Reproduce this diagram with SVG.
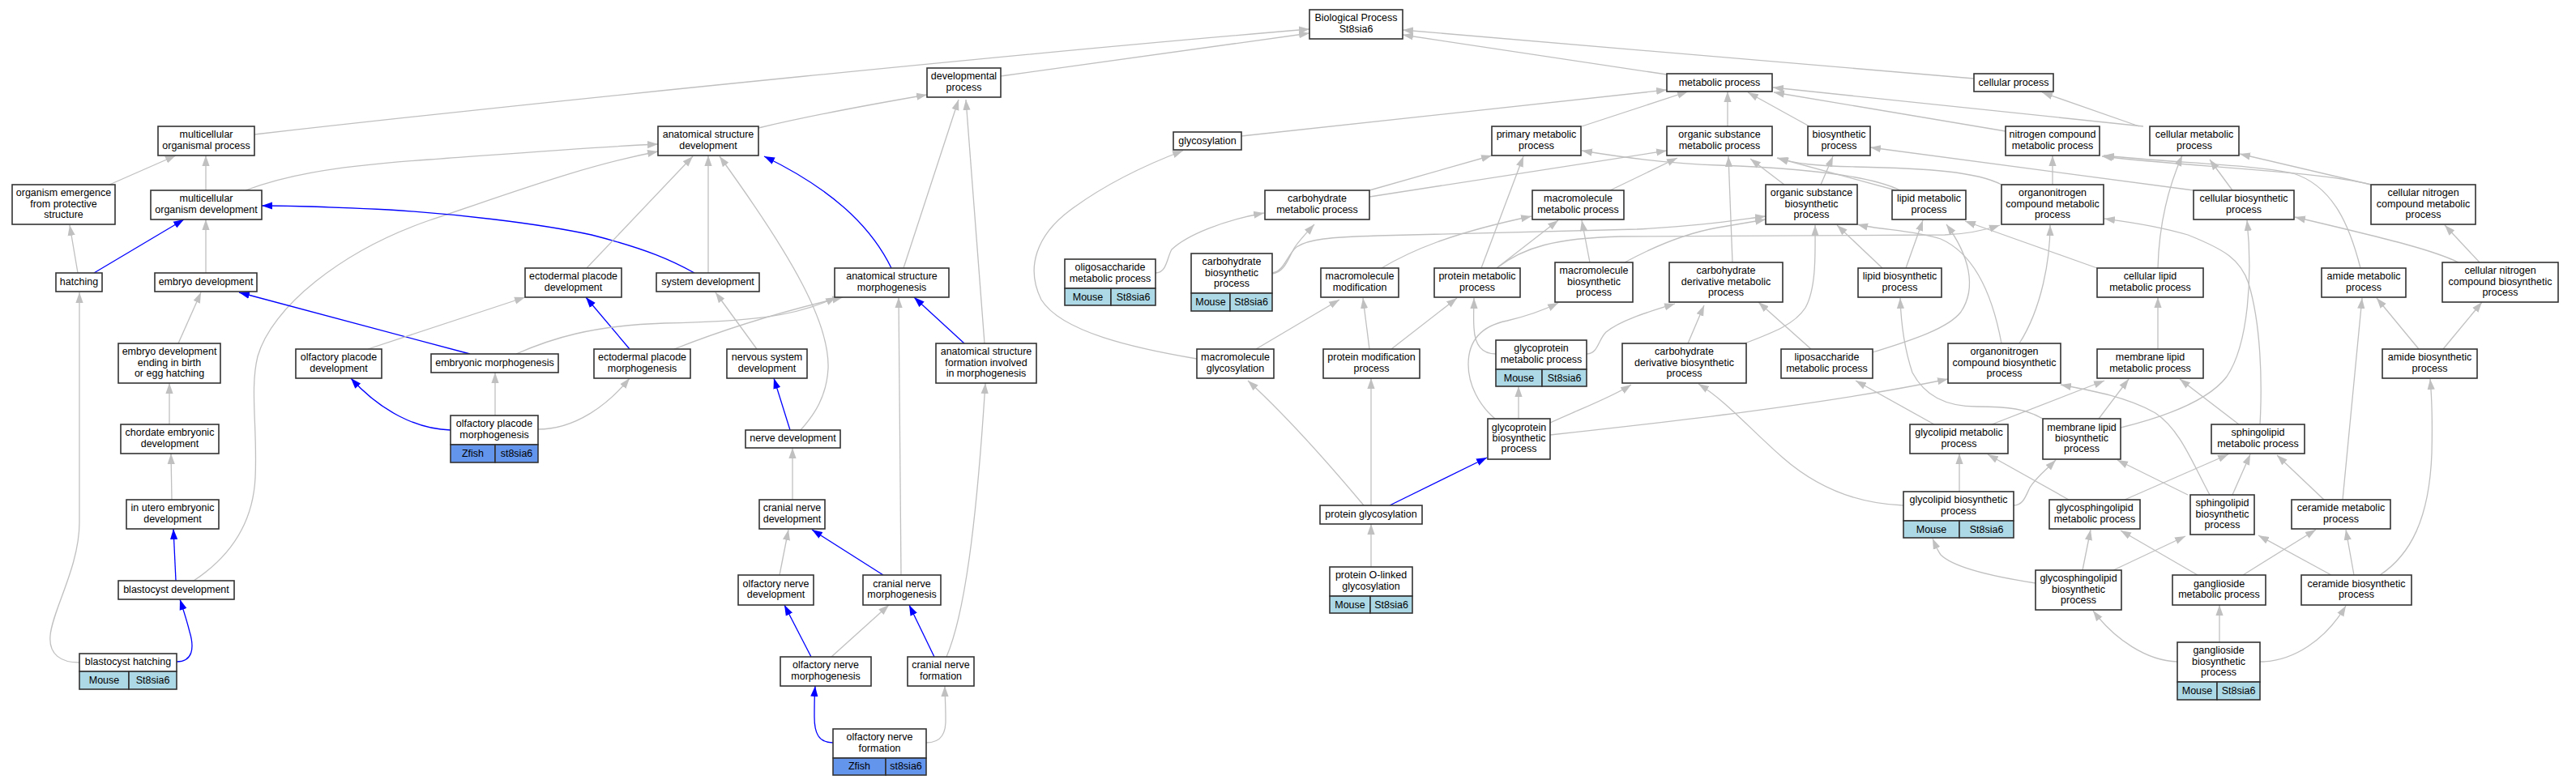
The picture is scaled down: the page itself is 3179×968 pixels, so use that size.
<svg xmlns="http://www.w3.org/2000/svg" width="3179" height="968" viewBox="0 0 3179 968">
<style>
.n rect{fill:#fff;stroke:#333;stroke-width:1.6}
.n rect.lb{fill:#add8e6}
.n rect.zf{fill:#6495ed}
text{font-family:"Liberation Sans",Arial,sans-serif;font-size:12.5px;text-anchor:middle;fill:#000}
.e path{fill:none;stroke:#c0c0c0;stroke-width:1.3;marker-end:url(#ag)}
.e path.b{stroke:#0000ff;marker-end:url(#ab)}
</style>
<defs>
<marker id="ag" markerUnits="userSpaceOnUse" markerWidth="13" markerHeight="10" viewBox="0 0 13 10" refX="13" refY="5" orient="auto"><path d="M0,0.4 L13,5 L0,9.6 z" fill="#c0c0c0"/></marker>
<marker id="ab" markerUnits="userSpaceOnUse" markerWidth="13" markerHeight="10" viewBox="0 0 13 10" refX="13" refY="5" orient="auto"><path d="M0,0.4 L13,5 L0,9.6 z" fill="#0000ff"/></marker>
</defs>
<rect width="3179" height="968" fill="#fff"/>
<g class="e" id="edges">
<path d="M314,166 C700,122 1300,62 1616,36"/>
<path d="M1235,94 L1616,41"/>
<path d="M936,158 C990,145 1080,128 1144,117"/>
<path d="M303,235 C345,219 400,206 530,197 C640,189 740,181 812,178"/>
<path d="M239,717 C280,690 312,650 315,590 C318,530 308,480 318,440 C335,380 420,310 530,272 C640,235 720,205 812,187"/>
<path d="M254,235 L254,192"/>
<path d="M135,228 L217,192"/>
<path class="b" d="M116,337 L227,271"/>
<path d="M254,337 L254,271"/>
<path class="b" d="M857,337 C830,322 800,308 730,290 C660,275 560,264 480,259 C420,256 360,254 323,254"/>
<path d="M96,337 L86,278"/>
<path d="M98,818 C75,818 60,808 62,785 C64,755 98,700 98,645 L98,361"/>
<path d="M220,424 L248,361"/>
<path class="b" d="M580,437 L295,361"/>
<path d="M209,524 L209,473"/>
<path d="M212,617 L211,560"/>
<path class="b" d="M217,717 L214,653"/>
<path class="b" d="M218,817 C238,817 240,800 234,780 C231,768 226,752 222,740"/>
<path class="b" d="M556,531 C515,530 470,508 433,467"/>
<path d="M454,431 L648,367"/>
<path class="b" d="M777,431 L723,367"/>
<path d="M724,331 L855,193"/>
<path d="M874,337 L874,192"/>
<path d="M988,531 C1005,512 1020,490 1022,455 C1024,400 980,320 888,193"/>
<path class="b" d="M1100,331 C1080,290 1040,240 943,193"/>
<path d="M1115,331 L1183,123"/>
<path d="M1215,424 L1192,123"/>
<path d="M637,437 C680,418 730,402 820,399 C920,397 980,392 1032,367"/>
<path d="M832,431 C880,412 950,388 1040,367"/>
<path d="M934,431 L883,361"/>
<path class="b" d="M975,531 L955,467"/>
<path d="M1112,710 L1109,367"/>
<path class="b" d="M1190,424 L1128,367"/>
<path d="M1168,811 C1190,760 1205,650 1216,473"/>
<path d="M978,617 L978,553"/>
<path d="M962,710 L973,654"/>
<path class="b" d="M1090,710 L1002,654"/>
<path class="b" d="M1001,811 L968,747"/>
<path d="M1026,811 L1097,747"/>
<path class="b" d="M1153,811 L1122,747"/>
<path class="b" d="M1028,917 C1010,917 1005,905 1005,885 C1005,870 1005,858 1006,847"/>
<path d="M1143,917 C1162,917 1168,905 1167,885 C1167,870 1166,858 1166,847"/>
<path d="M611,513 L611,460"/>
<path d="M664,530 C710,530 750,500 777,467"/>
<path d="M2057,92 L1731,43"/>
<path d="M2436,97 L1731,37"/>
<path d="M1952,156 L2083,113"/>
<path d="M1532,168 L2057,111"/>
<path d="M2132,156 L2132,113"/>
<path d="M2233,156 L2157,114"/>
<path d="M2475,162 L2189,114"/>
<path d="M2645,156 L2188,108"/>
<path d="M2640,156 L2520,114"/>
<path d="M1690,235 L1841,192"/>
<path d="M1690,243 L2057,186"/>
<path d="M2345,235 C2310,218 2240,208 2120,204 C2060,202 2000,194 1952,186"/>
<path d="M2340,235 L2193,195"/>
<path d="M2470,228 C2440,212 2380,208 2290,206 C2240,205 2215,202 2194,195"/>
<path d="M1987,235 L2070,195"/>
<path d="M2138,324 L2133,193"/>
<path d="M2202,228 L2160,196"/>
<path d="M2247,228 L2262,193"/>
<path d="M2707,235 L2308,182"/>
<path d="M2926,228 C2860,211 2700,206 2594,193"/>
<path d="M2926,228 L2764,190"/>
<path d="M2913,331 C2900,280 2880,230 2830,214 C2780,203 2680,201 2596,192"/>
<path d="M2533,228 L2533,192"/>
<path d="M2663,331 C2664,290 2672,240 2693,192"/>
<path d="M2755,235 L2727,197"/>
<path d="M2588,331 L2425,273"/>
<path d="M3060,324 L3017,278"/>
<path d="M3034,324 C3005,310 2960,298 2832,268"/>
<path d="M3015,431 L3063,373"/>
<path d="M2985,431 L2933,368"/>
<path d="M2891,617 L2915,368"/>
<path d="M2937,710 C2975,685 2998,640 3001,560 C3002,520 3001,490 2999,468"/>
<path d="M2663,431 L2663,367"/>
<path d="M2763,524 L2690,468"/>
<path d="M2617,528 C2670,515 2725,495 2748,465 C2775,425 2780,340 2773,272"/>
<path d="M2323,331 L2267,278"/>
<path d="M1570,337 C1585,335 1588,315 1600,305 C1615,295 1640,293 1700,291 L2020,283 C2100,279 2140,272 2179,267"/>
<path d="M1570,338 C1586,336 1590,318 1598,305 C1605,295 1612,288 1622,277"/>
<path d="M2005,324 C2040,305 2080,288 2120,281 L2179,271"/>
<path d="M1847,331 C1880,305 1920,294 2000,292 L2400,290 C2430,289 2450,284 2468,278"/>
<path d="M1847,331 L1923,272"/>
<path d="M1828,331 L1880,193"/>
<path d="M1705,331 C1740,310 1790,288 1890,267"/>
<path d="M1962,324 L1952,272"/>
<path d="M2352,331 L2373,272"/>
<path d="M2311,435 C2360,420 2405,405 2420,385 C2440,355 2430,315 2402,277"/>
<path d="M2153,424 C2190,410 2215,400 2228,380 C2242,355 2240,310 2240,278"/>
<path d="M2235,431 L2170,373"/>
<path d="M2470,424 C2460,370 2440,315 2395,295 C2360,284 2320,284 2292,277"/>
<path d="M2492,424 C2520,380 2530,320 2530,278"/>
<path d="M2521,517 C2500,505 2480,502 2440,502 C2400,502 2375,488 2360,460 C2350,430 2346,400 2345,368"/>
<path d="M2789,524 C2792,470 2790,400 2775,350 C2765,320 2745,308 2700,290 C2660,278 2620,273 2597,270"/>
<path d="M1913,522 C1950,505 1990,490 2013,475"/>
<path d="M1874,517 L1874,477"/>
<path d="M1845,517 C1825,500 1812,475 1812,450 C1812,418 1830,402 1860,396 C1885,390 1905,383 1923,374"/>
<path d="M1846,437 C1828,437 1820,425 1819,405 C1818,390 1819,380 1819,368"/>
<path d="M1958,437 C1972,437 1972,420 1982,410 C2000,395 2035,385 2067,375"/>
<path d="M2083,424 L2103,377"/>
<path d="M1690,431 L1682,368"/>
<path d="M1717,431 L1798,368"/>
<path d="M1550,431 L1653,370"/>
<path d="M1477,443 C1400,430 1310,410 1285,370 C1265,330 1280,290 1320,260 C1360,230 1410,205 1460,186"/>
<path d="M1426,337 C1440,337 1440,318 1446,308 C1465,290 1510,272 1560,263"/>
<path d="M1683,624 Q1600,525 1540,470"/>
<path d="M1692,624 L1692,467"/>
<path class="b" d="M1715,624 L1835,565"/>
<path d="M1692,700 L1692,647"/>
<path d="M1913,537 C2050,522 2250,500 2404,468"/>
<path d="M2387,524 L2290,470"/>
<path d="M2458,524 L2597,470"/>
<path d="M2418,607 L2418,560"/>
<path d="M2485,624 C2497,624 2500,612 2505,602 C2512,590 2525,580 2537,568"/>
<path d="M2512,720 C2460,712 2410,700 2395,685 C2390,678 2388,672 2385,665"/>
<path d="M2349,624 C2290,622 2240,600 2200,565 C2160,530 2130,495 2096,474"/>
<path d="M2570,704 L2580,654"/>
<path d="M2553,617 L2453,561"/>
<path d="M2700,611 L2613,568"/>
<path d="M2712,710 L2617,655"/>
<path d="M2622,617 L2750,561"/>
<path d="M2590,517 L2627,468"/>
<path d="M2608,704 L2697,662"/>
<path d="M2687,817 C2650,816 2610,790 2583,754"/>
<path d="M2727,611 C2705,570 2690,530 2660,510 C2625,490 2580,482 2543,475"/>
<path d="M2755,611 L2777,561"/>
<path d="M2868,617 L2810,562"/>
<path d="M2877,710 L2787,661"/>
<path d="M2768,710 L2858,654"/>
<path d="M2905,710 L2895,654"/>
<path d="M2739,793 L2739,747"/>
<path d="M2789,817 C2830,817 2870,790 2895,748"/>
</g>
<g class="n" id="n_bp"><rect x="1616" y="12" width="115" height="36"/><text><tspan x="1673.5" y="26.3">Biological Process</tspan><tspan x="1673.5" y="39.7">St8sia6</tspan></text></g>
<g class="n" id="n_devproc"><rect x="1144" y="84" width="91" height="36"/><text><tspan x="1189.5" y="98.3">developmental</tspan><tspan x="1189.5" y="111.7">process</tspan></text></g>
<g class="n" id="n_mop"><rect x="195" y="156" width="119" height="36"/><text><tspan x="254.5" y="170.3">multicellular</tspan><tspan x="254.5" y="183.7">organismal process</tspan></text></g>
<g class="n" id="n_asd"><rect x="812" y="156" width="124" height="36"/><text><tspan x="874" y="170.3">anatomical structure</tspan><tspan x="874" y="183.7">development</tspan></text></g>
<g class="n" id="n_oeps"><rect x="15" y="228" width="127" height="49"/><text><tspan x="78.5" y="242.1">organism emergence</tspan><tspan x="78.5" y="255.5">from protective</tspan><tspan x="78.5" y="268.9">structure</tspan></text></g>
<g class="n" id="n_mod"><rect x="186" y="235" width="137" height="36"/><text><tspan x="254.5" y="249.3">multicellular</tspan><tspan x="254.5" y="262.7">organism development</tspan></text></g>
<g class="n" id="n_hatching"><rect x="69" y="337" width="57" height="23"/><text x="97.5" y="351.5">hatching</text></g>
<g class="n" id="n_embdev"><rect x="191" y="337" width="126" height="23"/><text x="254" y="351.5">embryo development</text></g>
<g class="n" id="n_edp"><rect x="648" y="331" width="119" height="36"/><text><tspan x="707.5" y="345.3">ectodermal placode</tspan><tspan x="707.5" y="358.7">development</tspan></text></g>
<g class="n" id="n_sysdev"><rect x="810" y="337" width="127" height="23"/><text x="873.5" y="351.5">system development</text></g>
<g class="n" id="n_asm"><rect x="1030" y="331" width="141" height="36"/><text><tspan x="1100.5" y="345.3">anatomical structure</tspan><tspan x="1100.5" y="358.7">morphogenesis</tspan></text></g>
<g class="n" id="n_edebh"><rect x="146" y="424" width="126" height="49"/><text><tspan x="209" y="438.1">embryo development</tspan><tspan x="209" y="451.5">ending in birth</tspan><tspan x="209" y="464.9">or egg hatching</tspan></text></g>
<g class="n" id="n_opd"><rect x="365" y="431" width="106" height="36"/><text><tspan x="418" y="445.3">olfactory placode</tspan><tspan x="418" y="458.7">development</tspan></text></g>
<g class="n" id="n_embmorph"><rect x="532" y="437" width="157" height="23"/><text x="610.5" y="451.5">embryonic morphogenesis</text></g>
<g class="n" id="n_epm"><rect x="733" y="431" width="119" height="36"/><text><tspan x="792.5" y="445.3">ectodermal placode</tspan><tspan x="792.5" y="458.7">morphogenesis</tspan></text></g>
<g class="n" id="n_nsd"><rect x="897" y="431" width="99" height="36"/><text><tspan x="946.5" y="445.3">nervous system</tspan><tspan x="946.5" y="458.7">development</tspan></text></g>
<g class="n" id="n_asfim"><rect x="1155" y="424" width="124" height="49"/><text><tspan x="1217" y="438.1">anatomical structure</tspan><tspan x="1217" y="451.5">formation involved</tspan><tspan x="1217" y="464.9">in morphogenesis</tspan></text></g>
<g class="n" id="n_opm"><rect x="556" y="513" width="108" height="36"/><rect class="zf" x="556" y="549" width="55" height="22"/><rect class="zf" x="611" y="549" width="53" height="22"/><text><tspan x="610" y="527.3">olfactory placode</tspan><tspan x="610" y="540.7">morphogenesis</tspan></text><text x="583.5" y="563.5">Zfish</text><text x="637.5" y="563.5">st8sia6</text></g>
<g class="n" id="n_chordate"><rect x="149" y="524" width="121" height="36"/><text><tspan x="209.5" y="538.3">chordate embryonic</tspan><tspan x="209.5" y="551.7">development</tspan></text></g>
<g class="n" id="n_nervedev"><rect x="920" y="531" width="117" height="22"/><text x="978.5" y="545">nerve development</text></g>
<g class="n" id="n_inutero"><rect x="156" y="617" width="114" height="36"/><text><tspan x="213" y="631.3">in utero embryonic</tspan><tspan x="213" y="644.7">development</tspan></text></g>
<g class="n" id="n_cnd"><rect x="937" y="617" width="81" height="36"/><text><tspan x="977.5" y="631.3">cranial nerve</tspan><tspan x="977.5" y="644.7">development</tspan></text></g>
<g class="n" id="n_blastdev"><rect x="146" y="717" width="143" height="23"/><text x="217.5" y="731.5">blastocyst development</text></g>
<g class="n" id="n_ond"><rect x="911" y="710" width="93" height="37"/><text><tspan x="957.5" y="724.8">olfactory nerve</tspan><tspan x="957.5" y="738.2">development</tspan></text></g>
<g class="n" id="n_cnm"><rect x="1065" y="710" width="96" height="37"/><text><tspan x="1113" y="724.8">cranial nerve</tspan><tspan x="1113" y="738.2">morphogenesis</tspan></text></g>
<g class="n" id="n_onm"><rect x="963" y="811" width="112" height="36"/><text><tspan x="1019" y="825.3">olfactory nerve</tspan><tspan x="1019" y="838.7">morphogenesis</tspan></text></g>
<g class="n" id="n_cnf"><rect x="1120" y="811" width="82" height="36"/><text><tspan x="1161" y="825.3">cranial nerve</tspan><tspan x="1161" y="838.7">formation</tspan></text></g>
<g class="n" id="n_blasthatch"><rect x="98" y="807" width="120" height="22"/><rect class="lb" x="98" y="829" width="61" height="22"/><rect class="lb" x="159" y="829" width="59" height="22"/><text x="158" y="821">blastocyst hatching</text><text x="128.5" y="843.5">Mouse</text><text x="188.5" y="843.5">St8sia6</text></g>
<g class="n" id="n_onf"><rect x="1028" y="900" width="115" height="36"/><rect class="zf" x="1028" y="936" width="65" height="21"/><rect class="zf" x="1093" y="936" width="50" height="21"/><text><tspan x="1085.5" y="914.3">olfactory nerve</tspan><tspan x="1085.5" y="927.7">formation</tspan></text><text x="1060.5" y="950">Zfish</text><text x="1118" y="950">st8sia6</text></g>
<g class="n" id="n_metab"><rect x="2057" y="91" width="130" height="22"/><text x="2122" y="105.5">metabolic process</text></g>
<g class="n" id="n_cellproc"><rect x="2436" y="91" width="98" height="22"/><text x="2485" y="105.5">cellular process</text></g>
<g class="n" id="n_glyc"><rect x="1448" y="163" width="84" height="22"/><text x="1490" y="177.5">glycosylation</text></g>
<g class="n" id="n_pmp"><rect x="1841" y="156" width="110" height="36"/><text><tspan x="1896" y="170.3">primary metabolic</tspan><tspan x="1896" y="183.7">process</tspan></text></g>
<g class="n" id="n_osmp"><rect x="2057" y="156" width="130" height="36"/><text><tspan x="2122" y="170.3">organic substance</tspan><tspan x="2122" y="183.7">metabolic process</tspan></text></g>
<g class="n" id="n_biosyn"><rect x="2231" y="156" width="77" height="36"/><text><tspan x="2269.5" y="170.3">biosynthetic</tspan><tspan x="2269.5" y="183.7">process</tspan></text></g>
<g class="n" id="n_ncmp"><rect x="2475" y="156" width="116" height="36"/><text><tspan x="2533" y="170.3">nitrogen compound</tspan><tspan x="2533" y="183.7">metabolic process</tspan></text></g>
<g class="n" id="n_cmp"><rect x="2653" y="156" width="110" height="36"/><text><tspan x="2708" y="170.3">cellular metabolic</tspan><tspan x="2708" y="183.7">process</tspan></text></g>
<g class="n" id="n_carbmp"><rect x="1561" y="235" width="129" height="36"/><text><tspan x="1625.5" y="249.3">carbohydrate</tspan><tspan x="1625.5" y="262.7">metabolic process</tspan></text></g>
<g class="n" id="n_macromp"><rect x="1891" y="235" width="113" height="36"/><text><tspan x="1947.5" y="249.3">macromolecule</tspan><tspan x="1947.5" y="262.7">metabolic process</tspan></text></g>
<g class="n" id="n_osbp"><rect x="2179" y="228" width="113" height="49"/><text><tspan x="2235.5" y="242.1">organic substance</tspan><tspan x="2235.5" y="255.5">biosynthetic</tspan><tspan x="2235.5" y="268.9">process</tspan></text></g>
<g class="n" id="n_lmp"><rect x="2335" y="235" width="91" height="36"/><text><tspan x="2380.5" y="249.3">lipid metabolic</tspan><tspan x="2380.5" y="262.7">process</tspan></text></g>
<g class="n" id="n_oncmp"><rect x="2470" y="228" width="126" height="49"/><text><tspan x="2533" y="242.1">organonitrogen</tspan><tspan x="2533" y="255.5">compound metabolic</tspan><tspan x="2533" y="268.9">process</tspan></text></g>
<g class="n" id="n_cbp"><rect x="2707" y="235" width="124" height="36"/><text><tspan x="2769" y="249.3">cellular biosynthetic</tspan><tspan x="2769" y="262.7">process</tspan></text></g>
<g class="n" id="n_cncmp"><rect x="2926" y="228" width="129" height="49"/><text><tspan x="2990.5" y="242.1">cellular nitrogen</tspan><tspan x="2990.5" y="255.5">compound metabolic</tspan><tspan x="2990.5" y="268.9">process</tspan></text></g>
<g class="n" id="n_oligo"><rect x="1314" y="320" width="112" height="36"/><rect class="lb" x="1314" y="356" width="57" height="21"/><rect class="lb" x="1371" y="356" width="55" height="21"/><text><tspan x="1370" y="334.3">oligosaccharide</tspan><tspan x="1370" y="347.7">metabolic process</tspan></text><text x="1342.5" y="370.5">Mouse</text><text x="1398.5" y="370.5">St8sia6</text></g>
<g class="n" id="n_carbbp"><rect x="1470" y="313" width="100" height="49"/><rect class="lb" x="1470" y="362" width="48" height="22"/><rect class="lb" x="1518" y="362" width="52" height="22"/><text><tspan x="1520" y="327.1">carbohydrate</tspan><tspan x="1520" y="340.5">biosynthetic</tspan><tspan x="1520" y="353.9">process</tspan></text><text x="1494" y="377">Mouse</text><text x="1544" y="377">St8sia6</text></g>
<g class="n" id="n_macromod"><rect x="1630" y="331" width="96" height="36"/><text><tspan x="1678" y="345.3">macromolecule</tspan><tspan x="1678" y="358.7">modification</tspan></text></g>
<g class="n" id="n_protmp"><rect x="1770" y="331" width="106" height="36"/><text><tspan x="1823" y="345.3">protein metabolic</tspan><tspan x="1823" y="358.7">process</tspan></text></g>
<g class="n" id="n_macrobp"><rect x="1919" y="324" width="96" height="49"/><text><tspan x="1967" y="338.1">macromolecule</tspan><tspan x="1967" y="351.5">biosynthetic</tspan><tspan x="1967" y="364.9">process</tspan></text></g>
<g class="n" id="n_cdmp"><rect x="2060" y="324" width="140" height="49"/><text><tspan x="2130" y="338.1">carbohydrate</tspan><tspan x="2130" y="351.5">derivative metabolic</tspan><tspan x="2130" y="364.9">process</tspan></text></g>
<g class="n" id="n_lbp"><rect x="2293" y="331" width="103" height="36"/><text><tspan x="2344.5" y="345.3">lipid biosynthetic</tspan><tspan x="2344.5" y="358.7">process</tspan></text></g>
<g class="n" id="n_clmp"><rect x="2588" y="331" width="131" height="36"/><text><tspan x="2653.5" y="345.3">cellular lipid</tspan><tspan x="2653.5" y="358.7">metabolic process</tspan></text></g>
<g class="n" id="n_amp"><rect x="2865" y="331" width="104" height="36"/><text><tspan x="2917" y="345.3">amide metabolic</tspan><tspan x="2917" y="358.7">process</tspan></text></g>
<g class="n" id="n_cncbp"><rect x="3014" y="324" width="143" height="49"/><text><tspan x="3085.5" y="338.1">cellular nitrogen</tspan><tspan x="3085.5" y="351.5">compound biosynthetic</tspan><tspan x="3085.5" y="364.9">process</tspan></text></g>
<g class="n" id="n_macroglyc"><rect x="1477" y="431" width="95" height="36"/><text><tspan x="1524.5" y="445.3">macromolecule</tspan><tspan x="1524.5" y="458.7">glycosylation</tspan></text></g>
<g class="n" id="n_pmodp"><rect x="1633" y="431" width="119" height="36"/><text><tspan x="1692.5" y="445.3">protein modification</tspan><tspan x="1692.5" y="458.7">process</tspan></text></g>
<g class="n" id="n_gpmp"><rect x="1846" y="420" width="112" height="36"/><rect class="lb" x="1846" y="456" width="57" height="21"/><rect class="lb" x="1903" y="456" width="55" height="21"/><text><tspan x="1902" y="434.3">glycoprotein</tspan><tspan x="1902" y="447.7">metabolic process</tspan></text><text x="1874.5" y="470.5">Mouse</text><text x="1930.5" y="470.5">St8sia6</text></g>
<g class="n" id="n_cdbp"><rect x="2002" y="424" width="153" height="49"/><text><tspan x="2078.5" y="438.1">carbohydrate</tspan><tspan x="2078.5" y="451.5">derivative biosynthetic</tspan><tspan x="2078.5" y="464.9">process</tspan></text></g>
<g class="n" id="n_lipo"><rect x="2198" y="431" width="113" height="36"/><text><tspan x="2254.5" y="445.3">liposaccharide</tspan><tspan x="2254.5" y="458.7">metabolic process</tspan></text></g>
<g class="n" id="n_oncbp"><rect x="2404" y="424" width="139" height="49"/><text><tspan x="2473.5" y="438.1">organonitrogen</tspan><tspan x="2473.5" y="451.5">compound biosynthetic</tspan><tspan x="2473.5" y="464.9">process</tspan></text></g>
<g class="n" id="n_mlmp"><rect x="2588" y="431" width="131" height="36"/><text><tspan x="2653.5" y="445.3">membrane lipid</tspan><tspan x="2653.5" y="458.7">metabolic process</tspan></text></g>
<g class="n" id="n_abp"><rect x="2940" y="431" width="117" height="36"/><text><tspan x="2998.5" y="445.3">amide biosynthetic</tspan><tspan x="2998.5" y="458.7">process</tspan></text></g>
<g class="n" id="n_gpbp"><rect x="1836" y="517" width="77" height="50"/><text><tspan x="1874.5" y="531.6">glycoprotein</tspan><tspan x="1874.5" y="545">biosynthetic</tspan><tspan x="1874.5" y="558.4">process</tspan></text></g>
<g class="n" id="n_glmp"><rect x="2357" y="524" width="121" height="36"/><text><tspan x="2417.5" y="538.3">glycolipid metabolic</tspan><tspan x="2417.5" y="551.7">process</tspan></text></g>
<g class="n" id="n_mlbp"><rect x="2521" y="517" width="96" height="50"/><text><tspan x="2569" y="531.6">membrane lipid</tspan><tspan x="2569" y="545">biosynthetic</tspan><tspan x="2569" y="558.4">process</tspan></text></g>
<g class="n" id="n_smp"><rect x="2729" y="524" width="115" height="36"/><text><tspan x="2786.5" y="538.3">sphingolipid</tspan><tspan x="2786.5" y="551.7">metabolic process</tspan></text></g>
<g class="n" id="n_glbp"><rect x="2349" y="607" width="136" height="36"/><rect class="lb" x="2349" y="643" width="69" height="21"/><rect class="lb" x="2418" y="643" width="67" height="21"/><text><tspan x="2417" y="621.3">glycolipid biosynthetic</tspan><tspan x="2417" y="634.7">process</tspan></text><text x="2383.5" y="657.5">Mouse</text><text x="2451.5" y="657.5">St8sia6</text></g>
<g class="n" id="n_gsmp"><rect x="2529" y="617" width="112" height="36"/><text><tspan x="2585" y="631.3">glycosphingolipid</tspan><tspan x="2585" y="644.7">metabolic process</tspan></text></g>
<g class="n" id="n_sbp"><rect x="2703" y="611" width="79" height="49"/><text><tspan x="2742.5" y="625.1">sphingolipid</tspan><tspan x="2742.5" y="638.5">biosynthetic</tspan><tspan x="2742.5" y="651.9">process</tspan></text></g>
<g class="n" id="n_cermp"><rect x="2828" y="617" width="122" height="36"/><text><tspan x="2889" y="631.3">ceramide metabolic</tspan><tspan x="2889" y="644.7">process</tspan></text></g>
<g class="n" id="n_protglyc"><rect x="1629" y="624" width="126" height="23"/><text x="1692" y="638.5">protein glycosylation</text></g>
<g class="n" id="n_gsbp"><rect x="2512" y="704" width="106" height="49"/><text><tspan x="2565" y="718.1">glycosphingolipid</tspan><tspan x="2565" y="731.5">biosynthetic</tspan><tspan x="2565" y="744.9">process</tspan></text></g>
<g class="n" id="n_gangmp"><rect x="2681" y="710" width="115" height="37"/><text><tspan x="2738.5" y="724.8">ganglioside</tspan><tspan x="2738.5" y="738.2">metabolic process</tspan></text></g>
<g class="n" id="n_cerbp"><rect x="2840" y="710" width="136" height="37"/><text><tspan x="2908" y="724.8">ceramide biosynthetic</tspan><tspan x="2908" y="738.2">process</tspan></text></g>
<g class="n" id="n_olg"><rect x="1641" y="700" width="102" height="36"/><rect class="lb" x="1641" y="736" width="50" height="21"/><rect class="lb" x="1691" y="736" width="52" height="21"/><text><tspan x="1692" y="714.3">protein O-linked</tspan><tspan x="1692" y="727.7">glycosylation</tspan></text><text x="1666" y="750.5">Mouse</text><text x="1717" y="750.5">St8sia6</text></g>
<g class="n" id="n_gangbp"><rect x="2687" y="793" width="102" height="49"/><rect class="lb" x="2687" y="842" width="49" height="22"/><rect class="lb" x="2736" y="842" width="53" height="22"/><text><tspan x="2738" y="807.1">ganglioside</tspan><tspan x="2738" y="820.5">biosynthetic</tspan><tspan x="2738" y="833.9">process</tspan></text><text x="2711.5" y="857">Mouse</text><text x="2762.5" y="857">St8sia6</text></g>
</svg>
